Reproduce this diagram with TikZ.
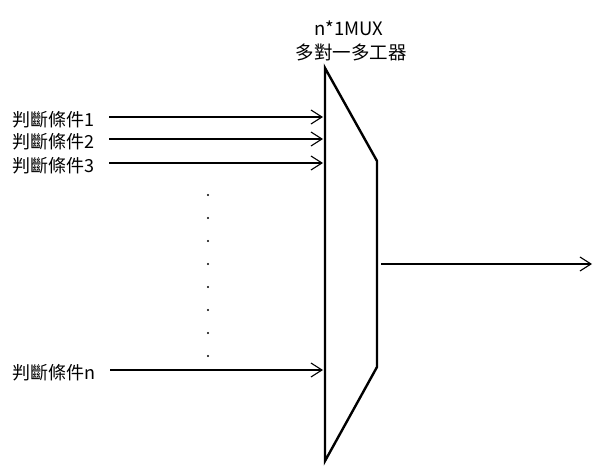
\documentclass[tikz,border=0pt]{standalone}
\usepackage{fontspec}
\setmainfont{Noto Sans CJK TC}
\usetikzlibrary{arrows.meta,positioning}
\tikzset{
  cond/.style={anchor=west, inner sep=0pt, font=\fontsize{18}{22}\selectfont},
  muxtitle/.style={inner sep=0pt, font=\fontsize{18.5}{22}\selectfont},
  inarrow/.style={line width=1.3pt, -{Straight Barb[length=11pt,width=14pt,line width=1.1pt]}},
  muxline/.style={line width=2.4pt, line join=miter}
}

\begin{document}
\begin{tikzpicture}[x=1pt,y=-1pt]
    \useasboundingbox (0,0) rectangle (600,471);
    % MUX body
    \coordinate (muxtl) at (325,68);
    \coordinate (muxtr) at (377,161);
    \coordinate (muxbr) at (377,367);
    \coordinate (muxbl) at (325,461);
    \coordinate (muxout) at (377,264);
    \draw[muxline] (muxtl) -- (muxtr) -- (muxbr) -- (muxbl) -- cycle;
    \node[muxtitle] (t1) at (349,28) {n*1MUX};
    \node[muxtitle] (t2) at (351,52) {多對一多工器};

    % inputs
    \foreach \i/\y in {1/117, 2/139, 3/163, n/370} {
      \coordinate (in\i) at (323,\y);
      \node[cond] (c\i) at (12,\y+3) {判斷條件\i};
      \draw[inarrow, shorten <=15pt] (c\i.east |- in\i) -- (in\i);
    }
    \foreach \k in {0,...,7} {
      \fill (208,195+23*\k) circle (1.2pt);
    }

    % output
    \coordinate (out) at (592,264);
    \draw[inarrow, shorten <=4pt] (muxout) -- (out);
  \end{tikzpicture}
\end{document}
